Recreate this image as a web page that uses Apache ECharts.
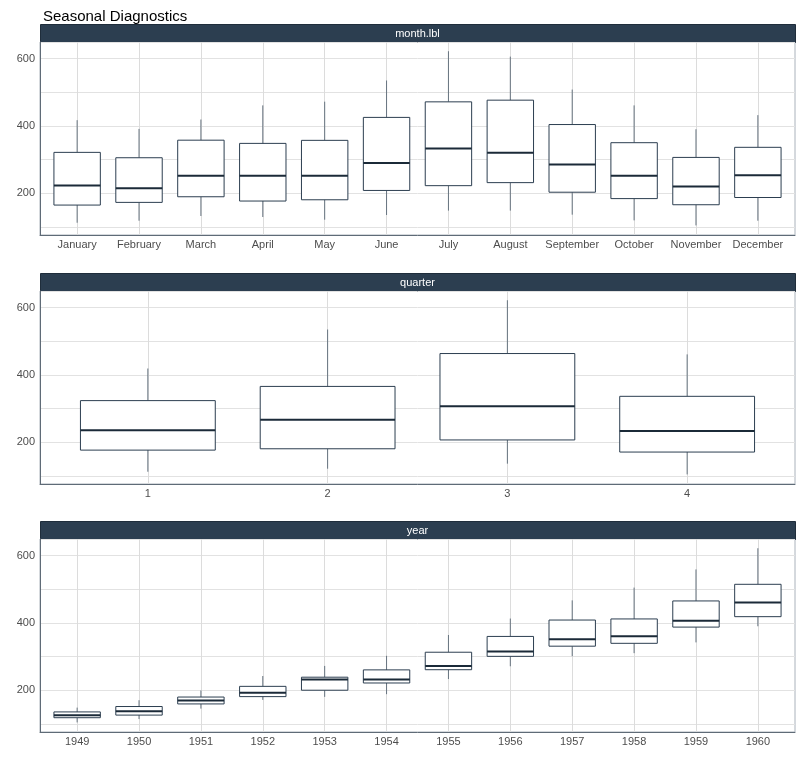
<!DOCTYPE html>
<html>
<head>
<meta charset="utf-8">
<script src="https://cdn.jsdelivr.net/npm/echarts@6/dist/echarts.min.js"></script>
<style>
  html, body { margin: 0; padding: 0; background: #fff; }
  #chart { width: 800px; height: 767px; }
</style>
</head>
<body>
<div id="chart"></div>
<script>
// Box stats: [lower whisker, Q1, median, Q3, upper whisker]
const monthLabels = ['January', 'February', 'March', 'April', 'May', 'June',
    'July', 'August', 'September', 'October', 'November', 'December'];
const monthBoxes = [
    [112, 164.5, 223, 321.25, 417],
    [118, 172.5, 214.5, 305.25, 391],
    [132, 189.25, 251.5, 357.5, 419],
    [129, 176.5, 252, 348, 461],
    [121, 180.25, 252, 357, 472],
    [135, 208, 289.5, 425.25, 535],
    [148, 222.25, 333, 471.5, 622],
    [148, 231.25, 320, 476.5, 606],
    [136, 202.75, 285.5, 404, 508],
    [119, 183.75, 251.5, 350, 461],
    [104, 165.5, 220, 306.25, 390],
    [118, 187, 253.5, 336.25, 432]
];

const quarterLabels = ['1', '2', '3', '4'];
const quarterBoxes = [
    [112, 176.25, 235.5, 323.5, 419],
    [121, 180.25, 266.5, 365.75, 535],
    [136, 206.5, 307, 463.5, 622],
    [104, 170.5, 233, 336.25, 461]
];

const yearLabels = ['1949', '1950', '1951', '1952', '1953', '1954',
    '1955', '1956', '1957', '1958', '1959', '1960'];
const yearBoxes = [
    [104, 118, 125, 135.25, 148],
    [114, 125.75, 137.5, 151.25, 170],
    [145, 159, 169, 179.5, 199],
    [171, 180.75, 192, 211.25, 242],
    [180, 199.75, 232, 238.5, 272],
    [188, 221.25, 231.5, 260.25, 302],
    [233, 260.75, 272, 312.75, 364],
    [271, 300.5, 315, 359.75, 413],
    [301, 330.75, 351.5, 408.5, 467],
    [310, 339.25, 360.5, 411.75, 505],
    [342, 387.5, 406.5, 465.25, 559],
    [390, 418.5, 461, 514.75, 622]
];

// shared y range
const yMin = 75.5, yMax = 649.5;

const panels = [
    { strip: 'month.lbl', labels: monthLabels, boxes: monthBoxes, top: 24 },
    { strip: 'quarter', labels: quarterLabels, boxes: quarterBoxes, top: 273 },
    { strip: 'year', labels: yearLabels, boxes: yearBoxes, top: 521 }
];

const plotLeft = 40, plotWidth = 755, stripH = 18, plotH = 193;
const navy = '#2c3e50';
const font = 'Liberation Sans, Arial, sans-serif';

function renderBox(params, api) {
    const i = api.value(0);
    const lo = api.coord([i, api.value(1)]);
    const q1 = api.coord([i, api.value(2)]);
    const med = api.coord([i, api.value(3)]);
    const q3 = api.coord([i, api.value(4)]);
    const hi = api.coord([i, api.value(5)]);
    const w = api.size([1, 0])[0] * 0.75;
    const cx = med[0];
    return {
        type: 'group',
        children: [
            { type: 'line', shape: { x1: cx, y1: lo[1], x2: cx, y2: q1[1] },
              style: { stroke: '#66737f', lineWidth: 1 } },
            { type: 'line', shape: { x1: cx, y1: q3[1], x2: cx, y2: hi[1] },
              style: { stroke: '#66737f', lineWidth: 1 } },
            { type: 'rect', shape: { x: cx - w / 2, y: q3[1], width: w, height: q1[1] - q3[1] },
              style: { fill: '#fff', stroke: navy, lineWidth: 1 } },
            { type: 'line', shape: { x1: cx - w / 2, y1: med[1], x2: cx + w / 2, y2: med[1] },
              style: { stroke: '#1b2a38', lineWidth: 2 } }
        ]
    };
}

const grid = [], xAxis = [], yAxis = [], series = [], graphic = [];

panels.forEach((p, k) => {
    const n = p.labels.length;
    const inset = plotWidth * 0.1 / (n + 0.2);   // ggplot discrete expansion 0.6 vs echarts 0.5
    const plotTop = p.top + stripH;

    // outer frame: border, y axis + horizontal grid
    grid.push({ left: plotLeft, top: plotTop, width: plotWidth, height: plotH,
        show: true, borderColor: '#aab2bb', borderWidth: 1, backgroundColor: 'transparent' });
    xAxis.push({ type: 'value', gridIndex: 2 * k, min: 0, max: 1,
        axisLine: { show: true, lineStyle: { color: '#5f6b77' } },
        axisTick: { show: false }, axisLabel: { show: false }, splitLine: { show: false } });
    yAxis.push({ type: 'value', gridIndex: 2 * k, min: yMin, max: yMax,
        minInterval: 100, maxInterval: 100,
        axisLine: { show: true, lineStyle: { color: '#5f6b77' } },
        axisTick: { show: false },
        axisLabel: { color: '#4d4d4d', fontSize: 11, fontFamily: font, margin: 5,
            formatter: v => (v % 200 === 0 ? String(v) : '') },
        splitLine: { show: true, lineStyle: { color: '#e2e2e2', width: 1 } } });

    // inner plot: categories with ggplot-like padding
    grid.push({ left: plotLeft + inset, top: plotTop, width: plotWidth - 2 * inset, height: plotH });
    xAxis.push({ type: 'category', gridIndex: 2 * k + 1, data: p.labels,
        axisLine: { show: false }, axisTick: { show: false },
        axisLabel: { color: '#4d4d4d', fontSize: 11, fontFamily: font, margin: 4, interval: 0 },
        splitLine: { show: true, alignWithLabel: true, interval: 0, lineStyle: { color: '#dcdcdc', width: 1 } } });
    yAxis.push({ type: 'value', gridIndex: 2 * k + 1, min: yMin, max: yMax, show: false,
        splitLine: { show: false } });

    series.push({
        type: 'custom',
        name: p.strip,
        xAxisIndex: 2 * k + 1,
        yAxisIndex: 2 * k + 1,
        renderItem: renderBox,
        encode: { x: 0, y: [1, 2, 3, 4, 5] },
        data: p.boxes.map((b, i) => [i].concat(b)),
        silent: true
    });

    graphic.push({ type: 'rect', left: plotLeft, top: p.top,
        shape: { width: plotWidth, height: stripH },
        style: { fill: navy, stroke: '#1f2d3b', lineWidth: 1 } });
    graphic.push({ type: 'text', x: plotLeft + plotWidth / 2, y: p.top + stripH / 2 + 1,
        style: { text: p.strip, fill: '#fff', font: '11px ' + font,
            align: 'center', verticalAlign: 'middle',
            textAlign: 'center', textVerticalAlign: 'middle' } });
});

const chart = echarts.init(document.getElementById('chart'));
chart.setOption({
    animation: false,
    title: { text: 'Seasonal Diagnostics', left: 38, top: 4,
        textStyle: { fontSize: 15, fontWeight: 'normal', color: '#000', fontFamily: font } },
    grid: grid,
    xAxis: xAxis,
    yAxis: yAxis,
    series: series,
    graphic: graphic
});
</script>
</body>
</html>
